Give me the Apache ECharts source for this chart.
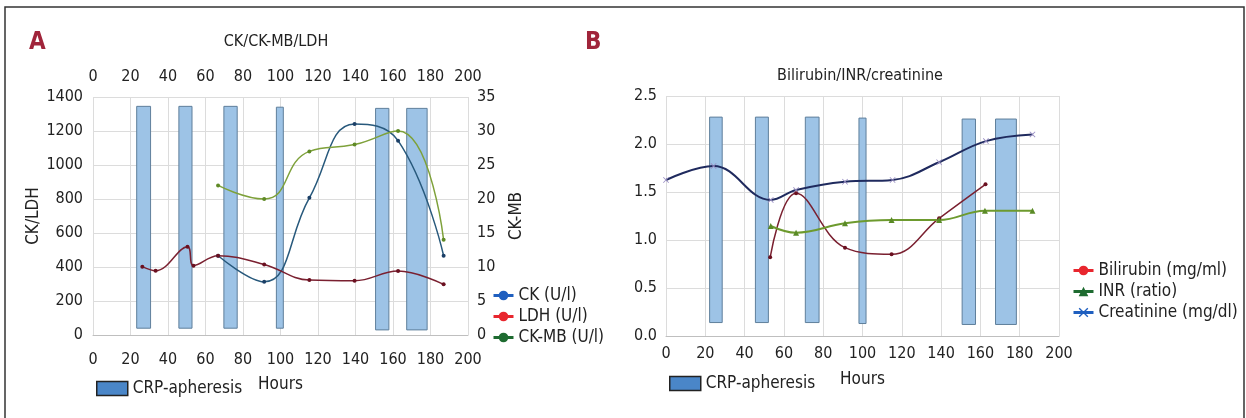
<!DOCTYPE html>
<html><head><meta charset="utf-8">
<script src="https://cdn.jsdelivr.net/npm/echarts@6/dist/echarts.min.js"></script>
<style>html,body{margin:0;padding:0;background:#fff}#c{width:1246px;height:418px}</style>
</head><body><div id="c"></div>
<script>
// ---- Panel A data ----
var aBarStart = [23.3, 45.8, 69.8, 97.8, 150.7, 167.3];
var aBarEnd   = [30.7, 52.8, 76.9, 101.5, 157.8, 178.2];
var aBarLow   = [40, 40, 40, 40, 30, 30];
var aBarHigh  = [1345, 1345, 1345, 1340, 1333, 1333];
var ckHours   = [66.7, 91.3, 115.4, 139.5, 162.7, 187];
var ckValues  = [466, 313, 807, 1241, 1143, 466];
var ckmbHours = [66.7, 91.3, 115.4, 139.5, 162.7, 187];
var ckmbValues= [22, 20, 27, 28, 30, 14];
var ldhHours  = [26.3, 33.4, 50.4, 53.6, 66.7, 91.3, 115.4, 139.5, 162.7, 187];
var ldhValues = [402, 378, 519, 408, 466, 415, 323, 319, 376, 298];
// ---- Panel B data ----
var bBarStart = [22.2, 45.5, 70.9, 98.2, 150.7, 167.7];
var bBarEnd   = [28.6, 52.1, 77.9, 101.8, 157.5, 178.3];
var bBarLow   = [0.14, 0.14, 0.14, 0.13, 0.12, 0.12];
var bBarHigh  = [2.28, 2.28, 2.28, 2.27, 2.26, 2.26];
var creaHours = [0, 24.2, 53.3, 66.2, 91.1, 115.3, 139, 162.8, 186.5];
var creaValues= [1.625, 1.77, 1.417, 1.52, 1.607, 1.625, 1.81, 2.03, 2.10];
var biliHours = [53, 66.2, 91.1, 114.8, 139, 162.6];
var biliValues= [0.82, 1.486, 0.92, 0.851, 1.226, 1.58];
var inrHours  = [53.3, 66.2, 91.1, 114.8, 139, 162.3, 186.5];
var inrValues = [1.146, 1.076, 1.174, 1.208, 1.208, 1.305, 1.305];

var FONT = "'Liberation Sans Narrow','DejaVu Sans Condensed','Roboto Condensed',sans-serif";
var TXT = '#222';

function pairs(xs, ys){ return xs.map(function(x,i){ return [x, ys[i]]; }); }
function bars(s,e,l,h){ return s.map(function(v,i){ return [v, e[i], l[i], h[i]]; }); }
function barRender(params, api){
  var p1 = api.coord([api.value(0), api.value(3)]);
  var p2 = api.coord([api.value(1), api.value(2)]);
  return {type:'rect', shape:{x:p1[0], y:p1[1], width:p2[0]-p1[0], height:p2[1]-p1[1]},
    style:{fill:'#9dc3e6', stroke:'#5f7f9b', lineWidth:1}};
}
var XMARK = 'path://M0,1L1,0L5,4L9,0L10,1L6,5L10,9L9,10L5,6L1,10L0,9L4,5Z';

var gridLine = {show:true, lineStyle:{color:'#dcdcdc', width:1}};
var lbl = {color:TXT, fontSize:16, fontFamily:FONT};
function plain(v){ return String(v); }
function xAx(grid, pos, margin, name, gap){
  return {type:'value', gridIndex:grid, position:pos, min:0, max:200, interval:20,
    axisLine:{show:pos==='bottom', lineStyle:{color:'#bfbfbf'}}, axisTick:{show:false},
    splitLine:gridLine, axisLabel:Object.assign({margin:margin, formatter:plain}, lbl),
    name:name||'', nameLocation:'middle', nameGap:gap||0,
    nameTextStyle:{color:TXT, fontSize:17, fontFamily:FONT}};
}

var chart = echarts.init(document.getElementById('c'), null, {renderer:'canvas'});
var crpLegendItem = {name:'CRP-apheresis', icon:'rect', itemStyle:{color:'#4a86c8', borderColor:'#222', borderWidth:1.5}};
chart.setOption({
  animation:false,
  backgroundColor:'#fff',
  grid:[
    {left:93, right:778, top:97, bottom:83},
    {left:666, right:187, top:96, bottom:82}
  ],
  xAxis:[
    xAx(0,'bottom',17,'Hours',41),
    xAx(0,'top',12),
    xAx(1,'bottom',10,'Hours',35)
  ],
  yAxis:[
    {type:'value', gridIndex:0, position:'left', min:0, max:1400, interval:200,
      axisLine:{show:false}, axisTick:{show:false}, splitLine:gridLine,
      axisLabel:Object.assign({margin:10, formatter:plain}, lbl),
      name:'CK/LDH', nameLocation:'middle', nameGap:40, nameRotate:90,
      nameTextStyle:{color:TXT, fontSize:17, fontFamily:FONT}},
    {type:'value', gridIndex:0, position:'right', min:0, max:35, interval:5,
      axisLine:{show:false}, axisTick:{show:false}, splitLine:{show:false},
      axisLabel:Object.assign({margin:9, formatter:plain}, lbl),
      name:'CK-MB', nameLocation:'middle', nameGap:40, nameRotate:90,
      nameTextStyle:{color:TXT, fontSize:17, fontFamily:FONT}},
    {type:'value', gridIndex:1, position:'left', min:0, max:2.5, interval:0.5,
      axisLine:{show:false}, axisTick:{show:false}, splitLine:gridLine,
      axisLabel:Object.assign({margin:9, formatter:function(v){return v.toFixed(1);}}, lbl)}
  ],
  legend:[
    {left:91, top:375, itemWidth:31, itemHeight:14, textStyle:{color:TXT, fontSize:17, fontFamily:FONT},
      data:[crpLegendItem], selectedMode:false},
    {left:664, top:370, itemWidth:31, itemHeight:14, textStyle:{color:TXT, fontSize:17, fontFamily:FONT},
      data:[crpLegendItem], selectedMode:false},
    {orient:'vertical', left:487, top:282, itemGap:4, itemWidth:20, itemHeight:12, selectedMode:false,
      textStyle:{color:TXT, fontSize:17, fontFamily:FONT},
      data:[
        {name:'CK (U/l)', itemStyle:{color:'#1f5fbf'}, lineStyle:{color:'#1f5fbf', width:3}},
        {name:'LDH (U/l)', itemStyle:{color:'#e8262e'}, lineStyle:{color:'#e8262e', width:3}},
        {name:'CK-MB (U/l)', itemStyle:{color:'#1e6b30'}, lineStyle:{color:'#1e6b30', width:3}}
      ]},
    {orient:'vertical', left:1067, top:257, itemGap:4, itemWidth:20, itemHeight:12, selectedMode:false,
      textStyle:{color:TXT, fontSize:17, fontFamily:FONT},
      data:[
        {name:'Bilirubin (mg/ml)', itemStyle:{color:'#e8262e'}, lineStyle:{color:'#e8262e', width:3}},
        {name:'INR (ratio)', itemStyle:{color:'#1e6b30'}, lineStyle:{color:'#1e6b30', width:3}},
        {name:'Creatinine (mg/dl)', itemStyle:{color:'#1f5fbf'}, lineStyle:{color:'#1f5fbf', width:3}}
      ]}
  ],
  series:[
    {name:'CRP-apheresis', type:'custom', xAxisIndex:0, yAxisIndex:0, renderItem:barRender,
      encode:{x:[0,1], y:[2,3]}, data:bars(aBarStart,aBarEnd,aBarLow,aBarHigh), z:1},
    {name:'CK (U/l)', type:'line', xAxisIndex:0, yAxisIndex:0, smooth:0.45, symbol:'circle', symbolSize:4,
      lineStyle:{color:'#28597c', width:1.5}, itemStyle:{color:'#1b3f66'}, data:pairs(ckHours, ckValues), z:3},
    {name:'LDH (U/l)', type:'line', xAxisIndex:0, yAxisIndex:0, smooth:0.4, symbol:'circle', symbolSize:4,
      lineStyle:{color:'#7a2030', width:1.5}, itemStyle:{color:'#6a1020'}, data:pairs(ldhHours, ldhValues), z:3},
    {name:'CK-MB (U/l)', type:'line', xAxisIndex:0, yAxisIndex:1, smooth:0.5, symbol:'circle', symbolSize:4,
      lineStyle:{color:'#7ea13a', width:1.5}, itemStyle:{color:'#5f8a26'}, data:pairs(ckmbHours, ckmbValues), z:3},
    {name:'CRP-apheresis', type:'custom', xAxisIndex:2, yAxisIndex:2, renderItem:barRender,
      encode:{x:[0,1], y:[2,3]}, data:bars(bBarStart,bBarEnd,bBarLow,bBarHigh), z:1},
    {name:'Creatinine (mg/dl)', type:'line', xAxisIndex:2, yAxisIndex:2, smooth:0.4, symbol:XMARK, symbolSize:6,
      lineStyle:{color:'#1f2a5e', width:2}, itemStyle:{color:'#9a8fc4'}, data:pairs(creaHours, creaValues), z:3},
    {name:'Bilirubin (mg/ml)', type:'line', xAxisIndex:2, yAxisIndex:2, smooth:0.4, symbol:'circle', symbolSize:4,
      lineStyle:{color:'#7a2030', width:1.5}, itemStyle:{color:'#6a1020'}, data:pairs(biliHours, biliValues), z:3},
    {name:'INR (ratio)', type:'line', xAxisIndex:2, yAxisIndex:2, smooth:0.4, symbol:'triangle', symbolSize:6,
      lineStyle:{color:'#6d9a2e', width:2}, itemStyle:{color:'#5a8a26'}, data:pairs(inrHours, inrValues), z:3}
  ],
  graphic:[
    {type:'polyline', shape:{points:[[5,420],[5,7],[1244,7],[1244,420]]}, style:{stroke:'#333', lineWidth:1.5, fill:null}},
    {type:'text', left:29, top:31, style:{text:'A', fill:'#a0243a', font:"bold 24px "+FONT}},
    {type:'text', left:585, top:31, style:{text:'B', fill:'#a0243a', font:"bold 24px "+FONT}},
    {type:'text', x:276, y:42, style:{text:'CK/CK-MB/LDH', fill:TXT, font:"16px "+FONT, textAlign:'center', textVerticalAlign:'middle'}},
    {type:'text', x:860, y:76, style:{text:'Bilirubin/INR/creatinine', fill:TXT, font:"16px "+FONT, textAlign:'center', textVerticalAlign:'middle'}}
  ]
});
</script>
</body></html>
